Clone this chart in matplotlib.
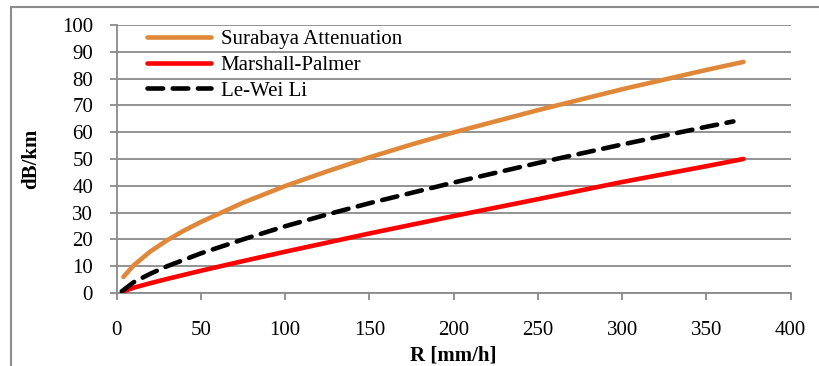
import matplotlib
matplotlib.use("Agg")
import matplotlib.pyplot as plt
from matplotlib.patches import Rectangle

# Data
r_sby = [4, 10, 20, 30, 40, 50, 75, 100, 125, 150, 175, 200, 250, 300, 350, 372]
sby = [6.0, 10.3, 15.5, 19.7, 23.3, 26.5, 33.7, 39.9, 45.4, 50.6, 55.4, 59.9, 68.2, 76.0, 83.2, 86.2]

r_mp = [4, 10, 20, 30, 50, 75, 100, 150, 200, 250, 300, 350, 372]
mp = [0.6, 1.97, 3.66, 5.26, 8.3, 11.9, 15.4, 22.2, 28.7, 35.0, 41.4, 47.3, 50.0]

r_lw = [3, 10, 20, 30, 50, 75, 100, 125, 150, 200, 250, 300, 350, 366]
lw = [0.6, 4.0, 7.2, 10.0, 14.8, 20.0, 24.9, 29.3, 33.5, 41.2, 48.5, 55.4, 62.0, 64.0]

labels = ["Surabaya Attenuation", "Marshall-Palmer", "Le-Wei Li"]
x_ticks = [0, 50, 100, 150, 200, 250, 300, 350, 400]
y_ticks = [0, 10, 20, 30, 40, 50, 60, 70, 80, 90, 100]

plt.rcParams['font.family'] = ['Liberation Serif', 'DejaVu Serif']

fig = plt.figure(figsize=(8.2, 3.66), dpi=100)
W, H = 820, 366
ax = fig.add_axes([116.7 / W, 1 - 293 / H, (790.7 - 116.7) / W, (293 - 24.9) / H])

# outer border
fig.patches.append(Rectangle((11 / W, -0.1), 1.2, (1 - 7 / H) + 0.1, transform=fig.transFigure,
                             fill=False, edgecolor='#8c8c8c', linewidth=1.5))

grid_c = '#8a8a8a'
ax.plot(r_sby, sby, color='#E0883A', linewidth=3.3, solid_capstyle='round', label=labels[0], zorder=3)
ax.plot(r_mp, mp, color='#FF0000', linewidth=3.3, solid_capstyle='round', label=labels[1], zorder=3)
ax.plot(r_lw, lw, color='black', linewidth=3.3, linestyle=(0, (3.4, 2.1)), dash_capstyle='round',
        label=labels[2], zorder=3)

ax.set_xlim(0, 400)
ax.set_ylim(0, 100)
ax.set_xticks(x_ticks)
ax.set_yticks(y_ticks)
ax.yaxis.grid(True, color=grid_c, linewidth=1.3)
ax.set_axisbelow(True)
for s in ['top', 'right']:
    ax.spines[s].set_visible(False)
for s in ['left', 'bottom']:
    ax.spines[s].set_color(grid_c)
    ax.spines[s].set_linewidth(1.3)
ax.tick_params(axis='both', colors=grid_c, labelcolor='black', labelsize=15, width=1.3, length=5)
ax.tick_params(axis='y', pad=12)
ax.tick_params(axis='x', pad=15)

ax.set_xlabel('R [mm/h]', fontsize=15, fontweight='bold', labelpad=4)
ax.set_ylabel('dB/km', fontsize=15, fontweight='bold', labelpad=15)

leg = ax.legend(loc='upper left', bbox_to_anchor=(0.02, 1.045), frameon=False, fontsize=15,
                handlelength=3.1, handletextpad=0.45, labelspacing=0.3, borderpad=0.3)

fig.savefig('out.png', dpi=100)
